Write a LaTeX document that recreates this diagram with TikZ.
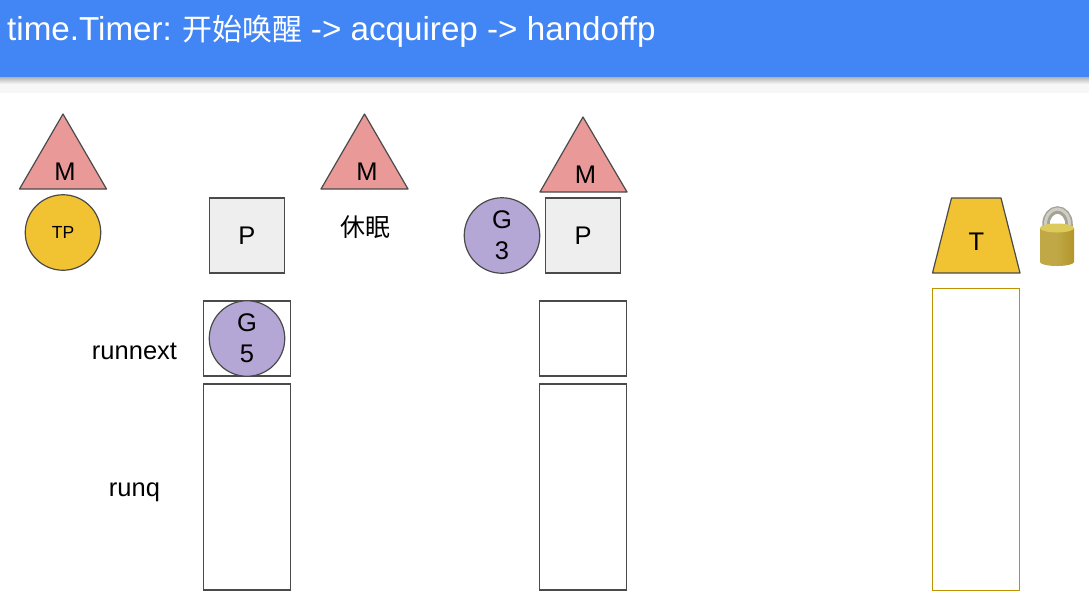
\documentclass[tikz,border=0pt]{standalone}
\usepackage{fontspec}
\setmainfont{Liberation Sans}
\newfontfamily\cjkfont{Noto Sans CJK SC}
\usetikzlibrary{shapes.geometric}
\definecolor{headblue}{HTML}{4285F4}
\definecolor{mred}{HTML}{EA9999}
\definecolor{tyellow}{HTML}{F1C232}
\definecolor{gpurple}{HTML}{B4A7D6}
\definecolor{pgray}{HTML}{EEEEEE}
\definecolor{edgegray}{HTML}{4A4A4A}
\definecolor{qgold}{HTML}{BF9000}
\definecolor{lockbody}{HTML}{BFA845}
\definecolor{lockdark}{HTML}{B3952A}
\definecolor{locktop}{HTML}{DCCB5A}
\definecolor{shackle}{HTML}{A5A396}
\definecolor{shacklelight}{HTML}{CFCEC6}
\tikzset{
    lbl/.style={font=\fontsize{25.5}{30}\selectfont,inner sep=0pt,align=center},
    mtri/.style={draw=edgegray,fill=mred,line width=1.2pt,line join=round},
    pbox/.style={draw=edgegray,fill=pgray,line width=1.2pt,minimum width=75.5pt,minimum height=75pt,inner sep=0pt,font=\fontsize{25.5}{30}\selectfont},
    gcirc/.style={circle,draw=edgegray,fill=gpurple,line width=1.2pt,minimum size=75.5pt,inner sep=0pt,align=center,font=\fontsize{25.5}{31}\selectfont},
    qbox/.style={draw=edgegray,line width=1.2pt,minimum width=87pt,inner sep=0pt},
}
\begin{document}
\begin{tikzpicture}[x=1pt,y=-1pt]
    \useasboundingbox (0,0) rectangle (1089,606);

    % header
    \fill[white] (0,0) rectangle (1089,606);
    \fill[black!3] (0,77) rectangle (1089,93);
    \shade[top color=black!30,bottom color=black!3] (0,77) rectangle (1089,84);
    \fill[headblue] (0,0) rectangle (1089,77);
    \node[anchor=base west,inner sep=0pt,text=white,font=\fontsize{33.2}{36}\selectfont] (title) at (7,40) {time.Timer:\hspace{-2pt} {\fontsize{30}{36}\selectfont\cjkfont 开始唤醒}\hspace{-0.5pt} -> acquirep -> handoffp};

    % first M
    \draw[mtri] (19.5,189)--(63,114)--(106.5,189)--cycle;
    \node[lbl] (m1) at (65,171.5) {M};
    \node[circle,draw=edgegray,fill=tyellow,line width=1.2pt,minimum size=75.5pt,inner sep=0pt,font=\fontsize{17.5}{20}\selectfont] (tp) at (63,232.5) {TP};

    % first P
    \node[pbox] (p1) at (247,235.5) {P};
    \node[qbox,minimum height=75pt] (next1) at (247,338.5) {};
    \node[gcirc] (g5) at (247,338.5) {G\\5};
    \node[qbox,minimum height=206pt] (runq1) at (247,487) {};
    \node[lbl] (runnext) at (134.5,351) {runnext};
    \node[lbl] (runq) at (134.5,492) {runq};

    % sleeping M
    \draw[mtri] (321,189)--(364.5,114)--(408,189)--cycle;
    \node[lbl] (m2) at (367,171.5) {M};
    \node[inner sep=0pt,font=\fontsize{25}{28}\selectfont] (sleep) at (365,227) {\cjkfont 休眠};

    % second P
    \draw[mtri] (540,192)--(583,117)--(627,192)--cycle;
    \node[lbl] (m3) at (585.5,174.5) {M};
    \node[pbox] (p2) at (583,235.5) {P};
    \node[gcirc] (g3) at (502,235.5) {G\\3};
    \node[qbox,minimum height=75pt] (next2) at (583,338.5) {};
    \node[qbox,minimum height=206pt] (runq2) at (583,487) {};

    % timer
    \draw[draw=edgegray,fill=tyellow,line width=1.2pt,line join=round] (932.5,273)--(951.5,198)--(1001,198)--(1020,273)--cycle;
    \node[lbl] (t) at (976.5,242) {T};
    \node[qbox,draw=qgold,minimum height=302pt] (tq) at (976,439.5) {};

    % lock
    \draw[line width=7.5pt,draw=shackle] (1046,232)--(1046,224) arc (180:360:11.5 and 14)--(1069,232);
    \draw[line width=3pt,draw=shacklelight] (1045.5,232)--(1045.5,224) arc (180:360:12 and 15)--(1069.5,232);
    \shade[left color=lockbody,right color=lockdark,middle color=lockbody] (1040,228) -- (1040,262) arc (180:0:17 and 4) -- (1074,228) -- cycle;
    \fill[locktop] (1057,228) ellipse (17 and 4.5);
\end{tikzpicture}
\end{document}
